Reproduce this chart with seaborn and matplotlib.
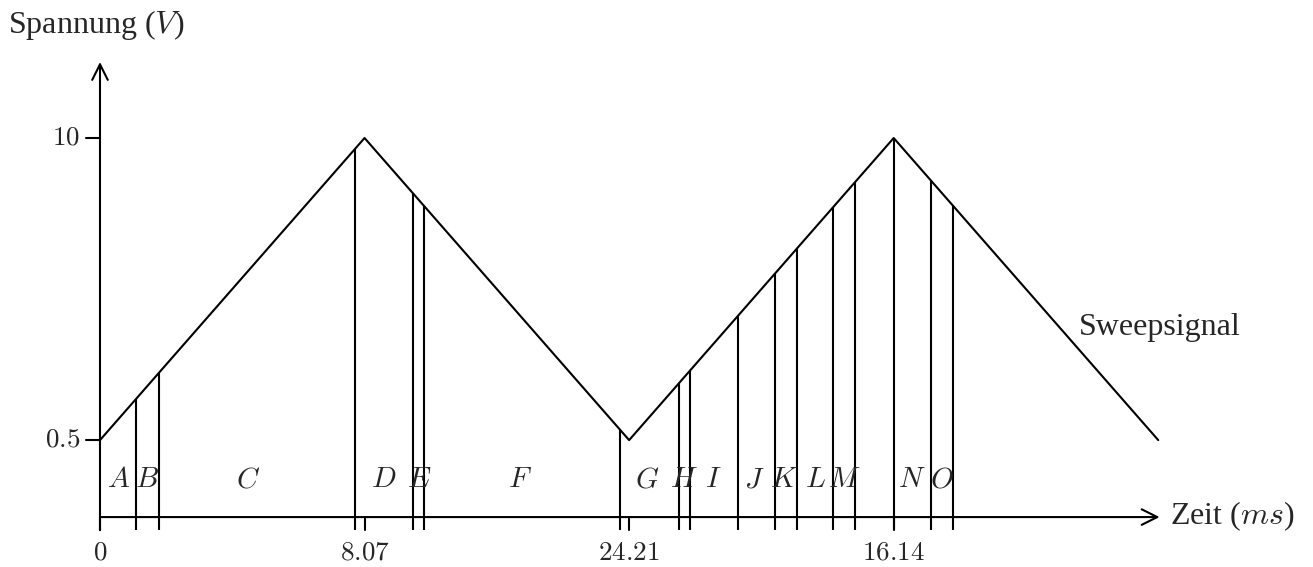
import numpy as np
import pandas as pd
import matplotlib
matplotlib.use("Agg")
import matplotlib.pyplot as plt
import seaborn as sns

# Sweep signal corner points (time units, volts)
wave_t = [0.0, 8.07, 16.14, 24.21, 32.28]
wave_v = [0.5, 10.0, 0.5, 10.0, 0.5]

# Sampling instants marked by vertical lines
marker_t = [1.11, 1.79, 7.78, 9.54, 9.88, 15.86, 17.66, 17.99, 19.46,
            20.58, 21.25, 22.36, 23.04, 24.21, 25.34, 26.01]

# Segment letters and their positions
seg_names = list("ABCDEFGHIJKLMNO")
seg_t = [0.58, 1.43, 4.51, 8.66, 9.74, 12.81, 16.69, 17.82, 18.70,
         19.95, 20.87, 21.81, 22.70, 24.77, 25.69]

# Axis ticks
xtick_pos = [0.0, 8.07, 16.14, 24.21]
xtick_labels = ["0", "8.07", "24.21", "16.14"]
ytick_pos = [0.5, 10.0]
ytick_labels = ["0.5", "10"]

sns.set_theme(style="white")
plt.rcParams["font.family"] = ["Liberation Serif", "DejaVu Serif"]
plt.rcParams["mathtext.fontset"] = "cm"

fig = plt.figure(figsize=(13.13, 5.67), dpi=100)
ax = fig.add_axes([0, 0, 1, 1])
ax.set_xlim(-3.05, 37.0)
ax.set_ylim(-3.49, 14.34)
ax.axis("off")

LW = 1.5
x_axis_y = -1.92
line_bottom = -2.33

df = pd.DataFrame({"t": wave_t, "v": wave_v})
sns.lineplot(data=df, x="t", y="v", color="black", lw=LW, ax=ax)

# Vertical marker lines from below the time axis up to the signal
for t in marker_t:
    top = np.interp(t, wave_t, wave_v)
    ax.plot([t, t], [line_bottom, top], color="black", lw=LW,
            solid_capstyle="butt")

# Axes with arrow heads
arrow = dict(arrowstyle="->", lw=LW, color="black", mutation_scale=28,
             shrinkA=0, shrinkB=0)
ax.annotate("", xy=(32.32, x_axis_y), xytext=(0.0, x_axis_y), arrowprops=arrow)
ax.annotate("", xy=(0.0, 12.39), xytext=(0.0, line_bottom), arrowprops=arrow)

# Ticks
for t, lab in zip(xtick_pos, xtick_labels):
    ax.plot([t, t], [line_bottom, x_axis_y], color="black", lw=LW)
    ax.text(t, -3.05, f"${lab}$", ha="center", va="center", fontsize=19.5)
for v, lab in zip(ytick_pos, ytick_labels):
    ax.plot([-0.43, 0.0], [v, v], color="black", lw=LW)
    ax.text(-0.6, v, f"${lab}$", ha="right", va="center", fontsize=19.5)

# Segment letters
for name, t in zip(seg_names, seg_t):
    ax.text(t, -0.76, f"${name}$", ha="center", va="center", fontsize=21)

# Labels
ax.text(29.87, 3.80, "Sweepsignal", ha="left", va="baseline", fontsize=23)
ax.text(32.63, -2.14, r"Zeit ($ms$)", ha="left", va="baseline", fontsize=23)
ax.text(-2.81, 13.30, r"Spannung ($V$)", ha="left", va="baseline", fontsize=23)

fig.savefig("out.png", dpi=100)
